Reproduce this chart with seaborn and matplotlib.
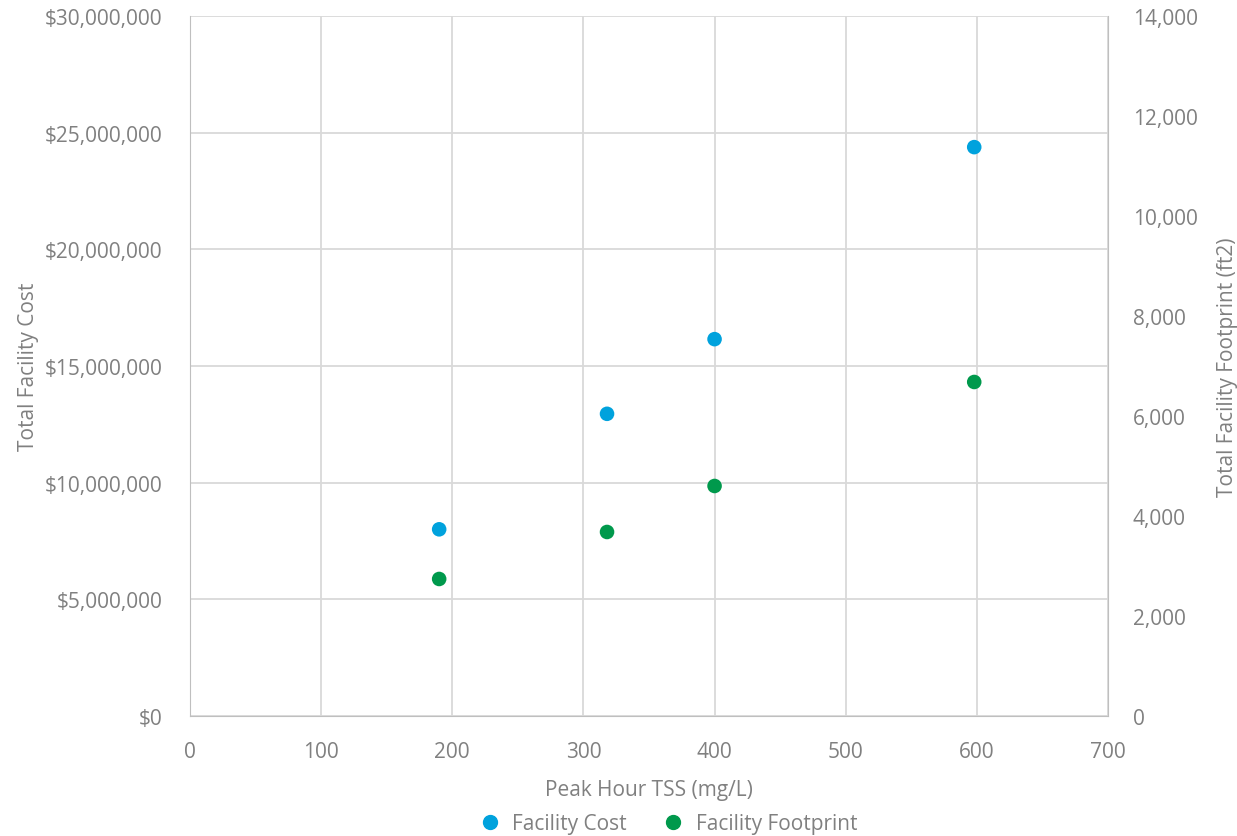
import seaborn as sns
import matplotlib.pyplot as plt
import matplotlib.ticker as mticker
from matplotlib.lines import Line2D
import pandas as pd

# data
tss = [190, 318, 400, 598]
facility_cost = [8000000, 12950000, 16150000, 24380000]
facility_footprint = [2740, 3680, 4600, 6680]

df = pd.DataFrame({'tss': tss, 'cost': facility_cost, 'footprint': facility_footprint})

sns.set_style('white')
plt.rcParams['font.family'] = ['Open Sans', 'DejaVu Sans']
txt = '#808080'
blue = '#00A2DD'
green = '#00994C'

fig = plt.figure(figsize=(12.37, 8.37), dpi=100)
ax = fig.add_axes([0.1536, 0.1434, 0.7421, 0.8363])
ax2 = ax.twinx()

sns.scatterplot(data=df, x='tss', y='cost', ax=ax, color=blue, s=110, edgecolor='none', zorder=3)
sns.scatterplot(data=df, x='tss', y='footprint', ax=ax2, color=green, s=110, edgecolor='none', zorder=3)

ax.set_xlim(0, 700)
ax.set_ylim(0, 30000000)
ax2.set_ylim(0, 14000)
ax.set_xticks(range(0, 701, 100))
ax.set_yticks(range(0, 30000001, 5000000))
ax2.set_yticks(range(0, 14001, 2000))
ax.yaxis.set_major_formatter(mticker.FuncFormatter(lambda v, p: '${:,.0f}'.format(v)))
ax2.yaxis.set_major_formatter(mticker.FuncFormatter(lambda v, p: '{:,.0f}'.format(v)))

ax.grid(True, color='#d9d9d9', linewidth=1.3)
ax.set_axisbelow(True)
for a in (ax, ax2):
    for s in a.spines.values():
        s.set_visible(False)
    a.tick_params(length=0, labelsize=15, colors=txt)
ax.tick_params(axis='y', pad=20)
ax2.tick_params(axis='y', pad=18)
ax.tick_params(axis='x', pad=18)
ax.spines['bottom'].set_visible(True)
ax.spines['bottom'].set_color('#bfbfbf')
ax.spines['left'].set_visible(True)
ax.spines['left'].set_color('#bfbfbf')
ax2.spines['right'].set_visible(True)
ax2.spines['right'].set_color('#bfbfbf')

ax.set_xlabel('Peak Hour TSS (mg/L)', fontsize=15, color=txt, labelpad=12)
ax.set_ylabel('Total Facility Cost', fontsize=15, color=txt, labelpad=4)
ax2.set_ylabel('Total Facility Footprint (ft2)', fontsize=15, color=txt, labelpad=14)

handles = [
    Line2D([], [], marker='o', linestyle='none', color=blue, markersize=10),
    Line2D([], [], marker='o', linestyle='none', color=green, markersize=10),
]
leg = fig.legend(handles, ['Facility Cost', 'Facility Footprint'], loc='lower center',
                 bbox_to_anchor=(0.536, -0.02), ncol=2, frameon=False, fontsize=15,
                 handletextpad=0.1, columnspacing=1.2)
for t in leg.get_texts():
    t.set_color(txt)

plt.savefig('out.png', dpi=100)
